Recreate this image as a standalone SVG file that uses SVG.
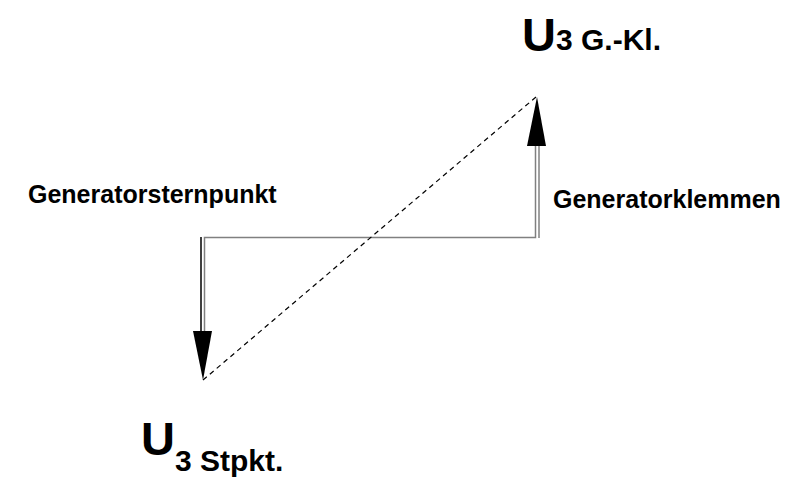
<svg xmlns="http://www.w3.org/2000/svg" width="797" height="478" viewBox="0 0 797 478">
<style>
text{font-family:"Liberation Sans",Arial,sans-serif;font-weight:bold;fill:#000}
.lbl{font-size:25px}
.big{font-size:47px}
.sub{font-size:30px}
.g{stroke:#808080;stroke-width:1.5;fill:none}
.k{stroke:#000;stroke-width:1.5;fill:none}
</style>
<rect width="797" height="478" fill="#fff"/>
<g id="connectors">
<path class="k" d="M201,237 V335"/>
<path class="g" d="M204.5,335 V237.5 H535.5 V145"/>
<path class="g" d="M539,238 V145"/>
<path d="M203,380 L536,97" stroke="#000" stroke-width="1.2" stroke-dasharray="5,4" fill="none"/>
<polygon points="193,331 212,331 203,380" fill="#000"/>
<polygon points="527,146 546,146 537,97" fill="#000"/>
</g>
<g id="label-gk"><text x="522" y="51"><tspan class="big">U</tspan><tspan class="sub" dy="-1">3 G.-Kl.</tspan></text></g>
<g id="label-stpkt"><text x="141" y="455"><tspan class="big">U</tspan><tspan class="sub" dy="16">3 Stpkt.</tspan></text></g>
<g id="label-sternpunkt"><text class="lbl" x="28" y="203">Generatorsternpunkt</text></g>
<g id="label-klemmen"><text class="lbl" x="553" y="208">Generatorklemmen</text></g>
</svg>
